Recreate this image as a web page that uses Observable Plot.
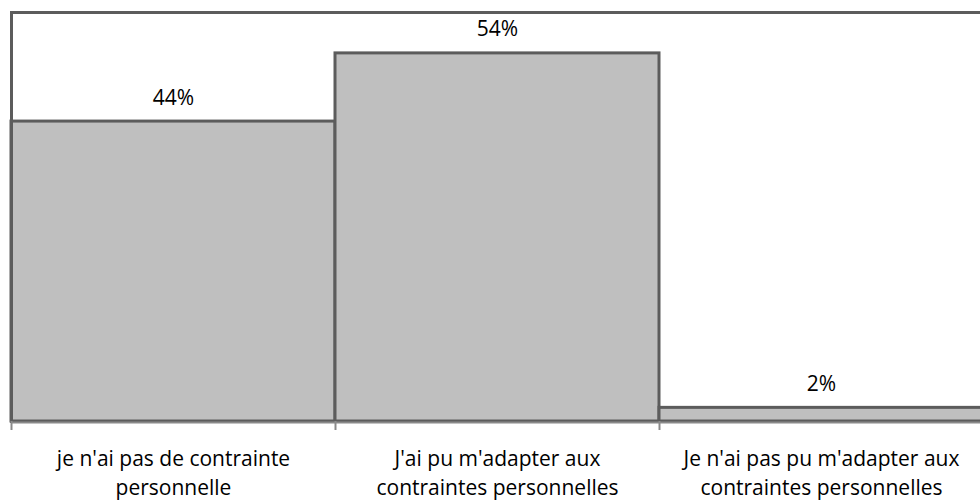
<!DOCTYPE html>
<html>
<head>
<meta charset="utf-8">
<script src="https://cdn.jsdelivr.net/npm/d3@7"></script>
<script src="https://cdn.jsdelivr.net/npm/@observablehq/plot@0.6"></script>
<style>
  html, body { margin: 0; padding: 0; background: #fff; }
  #chart { width: 980px; height: 501px; overflow: hidden; }
</style>
</head>
<body>
<div id="chart"></div>
<script>
const categories = [
  "je n'ai pas de contrainte\npersonnelle",
  "J'ai pu m'adapter aux\ncontraintes personnelles",
  "Je n'ai pas pu m'adapter aux\ncontraintes personnelles"
];
const values = [0.44, 0.54, 0.02];
const valueLabels = ["44%", "54%", "2%"];
const yDomain = [0, 0.6];

const rows = categories.map((c, i) => ({ i, category: c, value: values[i], label: valueLabels[i] }));
const boundaries = d3.range(categories.length + 1);

const chart = Plot.plot({
  width: 980,
  height: 501,
  marginTop: 12,
  marginLeft: 11,
  marginRight: 0,
  marginBottom: 80,
  style: { fontFamily: "Open Sans", fontSize: "21px", background: "#fff", color: "#000" },
  x: { type: "linear", domain: [0, categories.length], range: [11, 983], axis: null, label: null },
  y: { domain: yDomain, axis: null },
  marks: [
    Plot.rectY(rows, { x1: "i", x2: d => d.i + 1, y: "value", fill: "#bfbfbf", stroke: "#5c5c5c", strokeWidth: 3 }),
    Plot.frame({ anchor: "top", stroke: "#5c5c5c", strokeWidth: 3 }),
    Plot.frame({ anchor: "left", stroke: "#5c5c5c", strokeWidth: 3 }),
    Plot.ruleY([0], { stroke: "#8a8a8a", strokeWidth: 2, dy: 1 }),
    Plot.axisX({ ticks: boundaries, tickSize: 9, tickFormat: () => "", label: null, stroke: "#8a8a8a", strokeWidth: 2 }),
    Plot.text(rows, { x: d => d.i + 0.5, y: "value", text: "label", lineAnchor: "bottom", dy: -17, fontSize: 21, fill: "#000" }),
    Plot.text(rows, { x: d => d.i + 0.5, y: 0, text: "category", lineAnchor: "top", dy: 24, fontSize: 21, lineHeight: 1.38, fill: "#000" })
  ]
});
document.getElementById("chart").appendChild(chart);
</script>
</body>
</html>
